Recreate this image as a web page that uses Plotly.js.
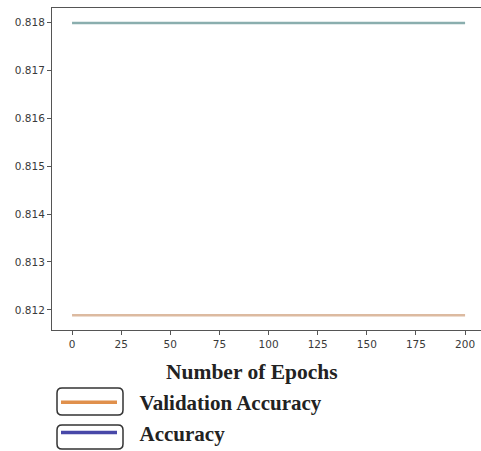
<!DOCTYPE html>
<html>
<head>
<meta charset="utf-8">
<script src="https://cdn.plot.ly/plotly-3.0.1.min.js"></script>
<style>html,body{margin:0;padding:0;background:#fff;overflow:hidden;}#chart{width:481px;height:451px;}</style>
</head>
<body>
<div id="chart"></div>
<script>
// Data
const epochs = [0, 25, 50, 75, 100, 125, 150, 175, 200];
const accuracy = [0.81798, 0.81798, 0.81798, 0.81798, 0.81798, 0.81798, 0.81798, 0.81798, 0.81798];
const valAccuracy = [0.81189, 0.81189, 0.81189, 0.81189, 0.81189, 0.81189, 0.81189, 0.81189, 0.81189];
const xTicks = [0, 25, 50, 75, 100, 125, 150, 175, 200];
const yTicks = [0.812, 0.813, 0.814, 0.815, 0.816, 0.817, 0.818];
const seriesNames = ["Validation Accuracy", "Accuracy"];
const xTitle = "Number of Epochs";

function roundRect(x0, y0, x1, y1, r) {
  return `M${x0 + r},${y0} L${x1 - r},${y0} Q${x1},${y0} ${x1},${y0 + r} L${x1},${y1 - r} Q${x1},${y1} ${x1 - r},${y1} L${x0 + r},${y1} Q${x0},${y1} ${x0},${y1 - r} L${x0},${y0 + r} Q${x0},${y0} ${x0 + r},${y0} Z`;
}

const pad = '\u2002\u00a0\u200a';

const traces = [
  {x: epochs, y: accuracy, mode: 'lines', line: {color: '#8aaeae', width: 2.5}, showlegend: false, hoverinfo: 'skip'},
  {x: epochs, y: valAccuracy, mode: 'lines', line: {color: '#dcbaa0', width: 2.5}, showlegend: false, hoverinfo: 'skip'},
  {x: [null], y: [null], name: pad + seriesNames[0], mode: 'lines', line: {color: '#e0904c', width: 3.5}, legendgroup: 'a'},
  {x: [null], y: [null], name: pad + seriesNames[1], mode: 'lines', line: {color: '#4848a8', width: 3.5}, legendgroup: 'b'}
];

const layout = {
  width: 481, height: 451,
  margin: {l: 52, r: 0, t: 8, b: 121, autoexpand: false},
  paper_bgcolor: '#fff', plot_bgcolor: '#fff',
  font: {family: 'DejaVu Sans', size: 10.5, color: '#3a3a3a'},
  xaxis: {
    range: [-10.2, 208.1], tickvals: xTicks, ticktext: xTicks.map(String),
    showgrid: false, zeroline: false, showline: true, linecolor: '#555', linewidth: 1,
    mirror: true, ticks: 'outside', ticklen: 4, tickcolor: '#555'
  },
  yaxis: {
    range: [0.811583, 0.818292], tickvals: yTicks, ticktext: yTicks.map(v => v.toFixed(3)),
    showgrid: false, zeroline: false, showline: true, linecolor: '#555', linewidth: 1,
    ticks: 'outside', ticklen: 4, tickcolor: '#555'
  },
  annotations: [
    {text: xTitle, xref: 'paper', yref: 'paper', x: (252 - 52) / 429, y: -(372 - 330) / 322,
     xanchor: 'center', yanchor: 'middle', showarrow: false,
     font: {family: 'Liberation Serif', size: 21.5, color: '#222', weight: 'bold'}}
  ],
  showlegend: true,
  legend: {
    xref: 'container', yref: 'container',
    x: 56 / 481, xanchor: 'left', y: 1 - 382 / 451, yanchor: 'top',
    orientation: 'v', itemwidth: 56, tracegroupgap: 0,
    font: {family: 'Liberation Serif', size: 21, color: '#222', weight: 'bold'},
    bgcolor: 'rgba(0,0,0,0)'
  },
  shapes: [
    {type: 'path', xref: 'paper', yref: 'paper', xsizemode: 'pixel', ysizemode: 'pixel', xanchor: 0, yanchor: 0,
     path: roundRect(5, -85, 71, -58, 5), line: {color: '#333', width: 1.5}},
    {type: 'path', xref: 'paper', yref: 'paper', xsizemode: 'pixel', ysizemode: 'pixel', xanchor: 0, yanchor: 0,
     path: roundRect(5, -119, 71, -95, 5), line: {color: '#333', width: 1.5}}
  ]
};

Plotly.newPlot('chart', traces, layout, {displayModeBar: false, staticPlot: true});
</script>
</body>
</html>
